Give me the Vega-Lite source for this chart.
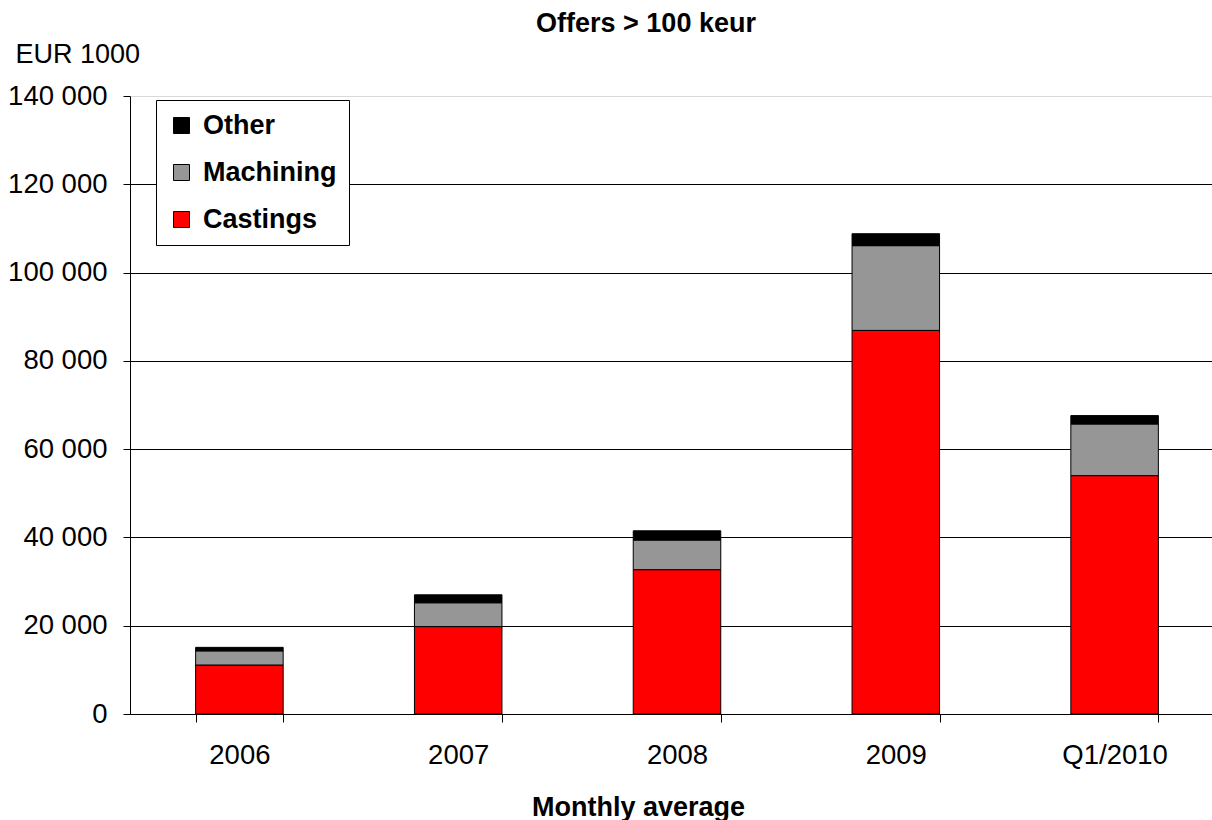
{
  "$schema": "https://vega.github.io/schema/vega-lite/v6.json",
  "width": 1082,
  "height": 618,
  "autosize": {"type": "none"},
  "padding": {"left": 130, "top": 96, "right": 0, "bottom": 106},
  "background": "white",
  "config": {
    "font": "Liberation Sans",
    "view": {"stroke": null}
  },
  "title": {
    "text": "Offers > 100 keur",
    "fontSize": 27,
    "fontWeight": "bold",
    "color": "black",
    "anchor": "middle",
    "baseline": "alphabetic",
    "offset": 7,
    "dy": 26,
    "dx": -25
  },
  "data": {
    "values": [
      {"year": "2006", "series": "Castings", "value": 11100},
      {"year": "2006", "series": "Machining", "value": 3200},
      {"year": "2006", "series": "Other", "value": 800},
      {"year": "2007", "series": "Castings", "value": 19800},
      {"year": "2007", "series": "Machining", "value": 5400},
      {"year": "2007", "series": "Other", "value": 1800},
      {"year": "2008", "series": "Castings", "value": 32700},
      {"year": "2008", "series": "Machining", "value": 6700},
      {"year": "2008", "series": "Other", "value": 2100},
      {"year": "2009", "series": "Castings", "value": 86900},
      {"year": "2009", "series": "Machining", "value": 19200},
      {"year": "2009", "series": "Other", "value": 2700},
      {"year": "Q1/2010", "series": "Castings", "value": 54000},
      {"year": "Q1/2010", "series": "Machining", "value": 11700},
      {"year": "Q1/2010", "series": "Other", "value": 1900}
    ]
  },
  "mark": {"type": "bar", "stroke": "black", "strokeWidth": 1},
  "encoding": {
    "x": {
      "field": "year",
      "type": "nominal",
      "sort": null,
      "scale": {"range": [0, 1094], "paddingInner": 0.6, "paddingOuter": 0.3},
      "axis": {
        "title": "Monthly average",
        "titleFontSize": 27,
        "titleFontWeight": "bold",
        "titleColor": "black",
        "titleX": 508,
        "titleY": 101,
        "titleAlign": "center",
        "titleBaseline": "alphabetic",
        "titleAnchor": null,
        "labelAngle": 0,
        "labelFontSize": 27.5,
        "labelColor": "black",
        "labelPadding": 19,
        "tickBand": "extent",
        "tickSize": 8,
        "tickColor": "black",
        "domainColor": "black",
        "grid": false
      }
    },
    "y": {
      "field": "value",
      "type": "quantitative",
      "aggregate": "sum",
      "stack": "zero",
      "scale": {"domain": [0, 140000], "nice": false},
      "axis": {
        "title": "EUR 1000",
        "titleAngle": 0,
        "titleFontSize": 27,
        "titleFontWeight": "normal",
        "titleColor": "black",
        "titleX": -115,
        "titleY": -34,
        "titleAlign": "left",
        "titleBaseline": "alphabetic",
        "values": [0, 20000, 40000, 60000, 80000, 100000, 120000, 140000],
        "labelExpr": "replace(format(datum.value, ','), ',', ' ')",
        "labelFontSize": 27.5,
        "labelColor": "black",
        "labelPadding": 16,
        "tickSize": 7,
        "tickColor": "black",
        "domainColor": "black",
        "grid": true,
        "gridColor": {"condition": {"test": "datum.value == 140000", "value": "#d9d9d9"}, "value": "black"},
        "gridOpacity": 1
      }
    },
    "color": {
      "field": "series",
      "type": "nominal",
      "scale": {"domain": ["Other", "Machining", "Castings"], "range": ["#000000", "#969696", "#ff0000"]},
      "legend": {
        "title": null,
        "orient": "none",
        "legendX": 26,
        "legendY": 4,
        "fillColor": "white",
        "strokeColor": "black",
        "padding": 12,
        "symbolType": "square",
        "symbolSize": 256,
        "symbolStrokeWidth": 1,
        "symbolStrokeColor": "black",
        "symbolOpacity": 1,
        "labelFontSize": 27,
        "labelFontWeight": "bold",
        "labelColor": "black",
        "labelOffset": 8,
        "rowPadding": 19
      }
    },
    "order": {"field": "series", "sort": "ascending"}
  }
}
